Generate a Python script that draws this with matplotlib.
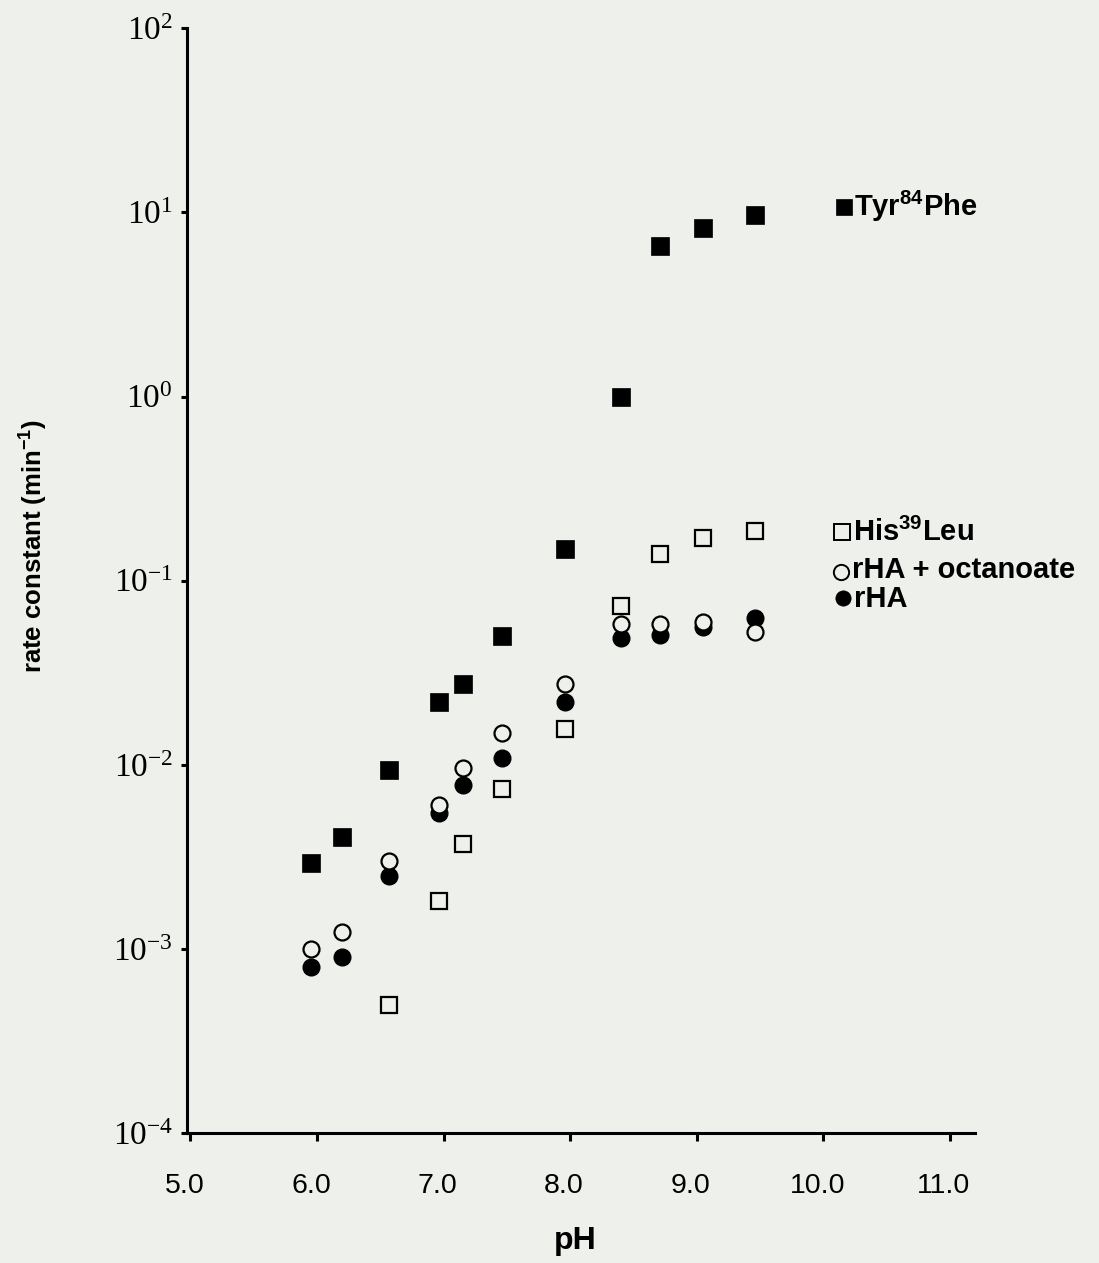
import numpy as np
import matplotlib
matplotlib.use("Agg")
import matplotlib.pyplot as plt
import matplotlib.transforms as mtransforms
from matplotlib.lines import Line2D

plt.rcParams['font.family'] = ['Liberation Sans', 'DejaVu Sans']

# pH values of the measurements
ph = [5.95, 6.20, 6.57, 6.96, 7.15, 7.46, 7.96, 8.40, 8.71, 9.05, 9.46]
ph_his = ph[2:]

# rate constants (min^-1)
tyr84phe = [0.00293, 0.00404, 0.0094, 0.0219, 0.0275, 0.0498, 0.148, 1.0, 6.58, 8.28, 9.64]
his39leu = [0.000498, 0.00183, 0.00369, 0.00743, 0.0157, 0.0731, 0.139, 0.171, 0.186]
rha_oct = [0.00100, 0.00123, 0.00302, 0.00608, 0.00964, 0.0149, 0.0275, 0.0583, 0.0578, 0.0596, 0.0524]
rha = [0.00080, 0.00090, 0.00250, 0.00548, 0.00778, 0.0109, 0.0219, 0.0490, 0.0505, 0.0560, 0.0630]

xticks = [5.0, 6.0, 7.0, 8.0, 9.0, 10.0, 11.0]
yexps = [-4, -3, -2, -1, 0, 1, 2]

bg = '#eef0eb'
W, H = 1099, 1263

fig = plt.figure(figsize=(W / 100, H / 100), dpi=100, facecolor=bg)
ax = fig.add_axes([186.7 / W, 1 - 1133 / H, (975 - 186.7) / W, (1133 - 28.3) / H])
ax.set_facecolor(bg)

ax.plot(ph, tyr84phe, 's', color='black', markersize=12.5, mec='black', mew=0.5, linestyle='none')
ax.plot(ph_his, his39leu, 's', mfc=bg, mec='black', markersize=12, mew=1.6, linestyle='none')
ax.plot(ph, rha, 'o', color='black', markersize=12, linestyle='none')
ax.plot(ph, rha_oct, 'o', mfc=bg, mec='black', markersize=11.5, mew=1.6, linestyle='none')

ax.set_yscale('log')
ax.set_xlim(4.97, 11.2)
ax.set_ylim(1e-4, 1e2)

for s in ['top', 'right']:
    ax.spines[s].set_visible(False)
for s in ['left', 'bottom']:
    ax.spines[s].set_linewidth(2.2)

ax.set_xticks(xticks)
ax.set_xticklabels([f"{v:.1f}" for v in xticks], fontsize=20.5)
ax.set_yticks([10.0 ** e for e in yexps])
ax.set_yticklabels([r'$\mathdefault{10^{%d}}$' % e for e in yexps],
                   fontsize=24, fontfamily='Liberation Serif')
ax.minorticks_off()
ax.tick_params(axis='x', direction='out', length=6, width=2.2, pad=23)
ax.tick_params(axis='y', direction='out', length=4, width=2.2, pad=6)

# shift x tick labels a bit left like the original
offset = mtransforms.ScaledTranslation(-6 / 100, 0, fig.dpi_scale_trans)
for lab in ax.get_xticklabels():
    lab.set_transform(lab.get_transform() + offset)

fig.text(33 / W, 1 - 546 / H, r'rate constant (min$^{\mathdefault{-1}}$)', rotation=90,
         ha='center', va='center', fontsize=18.5, fontweight='bold')
fig.text(575 / W, 1 - 1241 / H, 'pH', ha='center', va='center', fontsize=23, fontweight='bold')

# legend written next to the data, as in the original
legend = [
    ('s', 'black', 843.5, 206.7, r'Tyr$^{\mathdefault{84}}$Phe', 206.7),
    ('s', bg, 841.7, 532, r'His$^{\mathdefault{39}}$Leu', 532),
    ('o', bg, 841, 571.7, 'rHA + octanoate', 570.5),
    ('o', 'black', 842.5, 597.5, 'rHA', 599),
]
for mk, fc, px, py, txt, ty in legend:
    ms = 11.5 if mk == 's' else 11
    fig.add_artist(Line2D([px / W], [1 - py / H], marker=mk, mfc=fc, mec='black',
                          markersize=ms, mew=1.4 if fc == bg else 0.5,
                          transform=fig.transFigure, linestyle='none'))
    fig.text((px + 11) / W, 1 - ty / H, txt, ha='left', va='center',
             fontsize=21, fontweight='bold')

fig.savefig('out.png', dpi=100, facecolor=bg)
